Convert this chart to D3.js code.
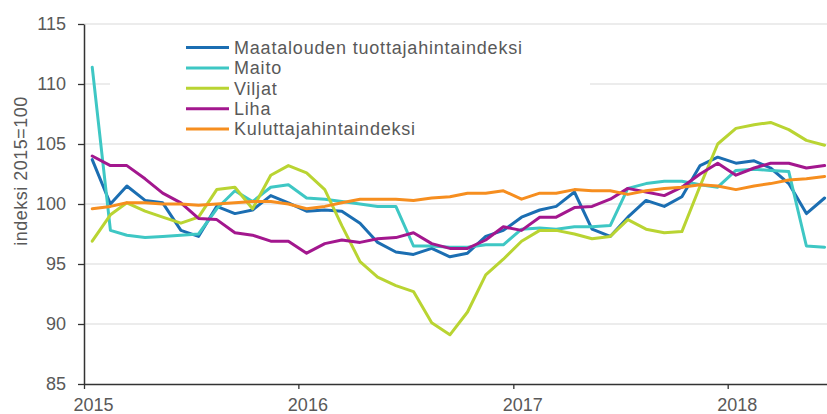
<!DOCTYPE html>
<html><head><meta charset="utf-8">
<script src="https://cdn.jsdelivr.net/npm/d3@7"></script>
<style>
body{margin:0;background:#fff}
svg{display:block}
text{font-family:"Liberation Sans",Arial,sans-serif;fill:#595959}
</style>
</head><body><svg id="c" width="827" height="414"></svg>
<script>
// ---- data ----
const months = [
 "2015-01","2015-02","2015-03","2015-04","2015-05","2015-06","2015-07","2015-08","2015-09","2015-10","2015-11","2015-12",
 "2016-01","2016-02","2016-03","2016-04","2016-05","2016-06","2016-07","2016-08","2016-09","2016-10","2016-11","2016-12",
 "2017-01","2017-02","2017-03","2017-04","2017-05","2017-06","2017-07","2017-08","2017-09","2017-10","2017-11","2017-12",
 "2018-01","2018-02","2018-03","2018-04","2018-05","2018-06"];
const seriesNames = ["Maatalouden tuottajahintaindeksi","Maito","Viljat","Liha","Kuluttajahintaindeksi"];
const maatalous = [103.7,100.0,101.5,100.3,100.1,97.8,97.3,99.8,99.2,99.5,100.7,100.1,
 99.4,99.5,99.4,98.4,96.8,96.0,95.8,96.3,95.6,95.9,97.3,97.8,
 98.9,99.5,99.8,101.0,97.9,97.3,98.9,100.3,99.8,100.6,103.2,103.9,
 103.4,103.6,103.0,101.7,99.2,100.5];
const maito = [111.4,97.8,97.4,97.2,97.3,97.4,97.5,99.6,101.1,100.2,101.4,101.6,
 100.5,100.4,100.2,100.0,99.8,99.8,96.5,96.5,96.4,96.4,96.6,96.6,
 97.9,98.0,97.9,98.1,98.1,98.2,101.3,101.7,101.9,101.9,101.6,101.4,
 102.8,102.9,102.8,102.7,96.5,96.4];
const viljat = [96.9,99.1,100.1,99.4,98.9,98.4,98.9,101.2,101.4,99.6,102.4,103.2,
 102.6,101.2,98.2,95.2,93.9,93.2,92.7,90.1,89.1,91.0,94.1,95.4,
 96.9,97.8,97.8,97.5,97.1,97.3,98.7,97.9,97.6,97.7,101.5,105.0,
 106.3,106.6,106.8,106.2,105.3,104.9];
const liha = [104.0,103.2,103.2,102.1,100.9,100.1,98.8,98.7,97.6,97.4,96.9,96.9,
 95.9,96.7,97.0,96.8,97.1,97.2,97.6,96.7,96.3,96.3,97.0,98.1,
 97.8,98.9,98.9,99.7,99.8,100.4,101.3,101.0,100.7,101.4,102.5,103.4,
 102.4,103.0,103.4,103.4,103.0,103.2];
const kuluttaja = [99.6,99.8,100.1,100.1,100.0,100.0,99.9,100.0,100.1,100.2,100.2,100.0,
 99.6,99.8,100.1,100.4,100.4,100.4,100.3,100.5,100.6,100.9,100.9,101.1,
 100.4,100.9,100.9,101.2,101.1,101.1,100.8,101.1,101.3,101.4,101.6,101.5,
 101.2,101.5,101.7,102.0,102.1,102.3];
const yTicks = [85,90,95,100,105,110,115];
const yTitle = "indeksi 2015=100";

// ---- styles ----
const colors = ["#1b6eb2","#3ec7c4","#b9d432","#a3178e","#f68e1f"];

const svg = d3.select("#c");
const parse = d3.timeParse("%Y-%m");
const x = d3.scaleTime()
  .domain([new Date(2015,0,1), new Date(2018,6,1)])
  .range([84, 834]);
const y = d3.scaleLinear().domain([85,115]).range([384,24]);

// gridlines
svg.append("g").selectAll("line").data(yTicks.filter(d=>d>85)).join("line")
  .attr("x1",84).attr("x2",827)
  .attr("y1",d=>y(d)).attr("y2",d=>y(d))
  .attr("stroke","#d9d9d9").attr("stroke-width",1.2);

// legend background
svg.append("rect").attr("x",110).attr("y",30).attr("width",480).attr("height",110).attr("fill","#fff");

// lines
const all = [maatalous, maito, viljat, liha, kuluttaja];
const line = d3.line()
  .x((d,i)=>x(d3.timeDay.offset(parse(months[i]),14)))
  .y(d=>y(d));
svg.append("g").selectAll("path").data(all).join("path")
  .attr("d",d=>line(d))
  .attr("fill","none")
  .attr("stroke",(d,i)=>colors[i])
  .attr("stroke-width",3)
  .attr("stroke-linejoin","round")
  .attr("stroke-linecap","round");

// axes
const yAxis = svg.append("g").attr("transform","translate(84,0)")
  .call(d3.axisLeft(y).tickValues(yTicks).tickSize(6).tickSizeOuter(0).tickPadding(12));
const xAxis = svg.append("g").attr("transform","translate(0,384)")
  .call(d3.axisBottom(x).ticks(d3.timeYear.every(1)).tickFormat(d3.timeFormat("%Y")).tickSize(5).tickSizeOuter(0).tickPadding(9));
[yAxis,xAxis].forEach(a=>{
  a.select(".domain").attr("stroke","#333").attr("stroke-width",1.5);
  a.selectAll(".tick line").attr("stroke","#333").attr("stroke-width",1.3);
  a.selectAll(".tick text").attr("font-size",18).attr("font-family","Liberation Sans, Arial, sans-serif").attr("fill","#595959");
});
xAxis.selectAll(".tick text").attr("x",9);

// y title
svg.append("text")
  .attr("transform","translate(27,171) rotate(-90)")
  .attr("text-anchor","middle")
  .attr("font-size",18)
  .attr("letter-spacing",0.5)
  .text(yTitle);

// legend
const lg = svg.append("g").selectAll("g").data(seriesNames).join("g")
  .attr("transform",(d,i)=>`translate(0,${47.5+i*20.4})`);
lg.append("line").attr("x1",186).attr("x2",229).attr("y1",0).attr("y2",0)
  .attr("stroke",(d,i)=>colors[i]).attr("stroke-width",3);
lg.append("text").attr("x",234).attr("y",0).attr("dy","0.35em")
  .attr("font-size",18).attr("letter-spacing",0.8)
  .text(d=>d);
</script>
</body></html>
